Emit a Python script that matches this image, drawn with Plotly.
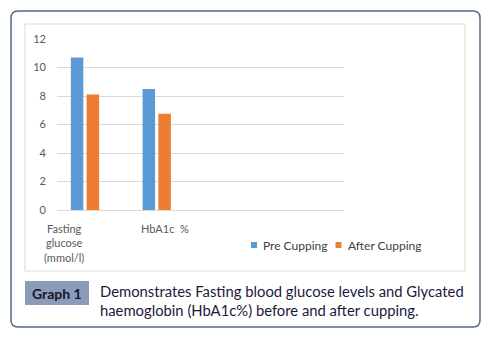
import plotly.graph_objects as go

# ---- data ----
categories = ["Fasting<br>glucose<br>(mmol/l)", "HbA1c\u00a0 %"]
series_names = ["Pre Cupping", "After Cupping"]
pre_cupping = [10.7, 8.5]
after_cupping = [8.1, 6.75]
y_ticks = [0, 2, 4, 6, 8, 10, 12]
caption_label = "Graph 1"
caption_text = "Demonstrates Fasting blood glucose levels and Glycated<br>haemoglobin (HbA1c%) before and after cupping."

W, H = 488, 340
ML, MR, MT, MB = 57, 144, 39, 130
PW, PH = W - ML - MR, H - MT - MB

def px(x):
    return (x - ML) / PW

def py(y):
    return 1 - (y - MT) / PH

colors = ["#5b9bd5", "#ed7d31"]
values = [pre_cupping, after_cupping]
bar_w = 0.174
offsets = [-0.307, -0.087]

fig = go.Figure()
xs = list(range(len(categories)))
for name, vals, col, off in zip(series_names, values, colors, offsets):
    fig.add_trace(go.Bar(x=xs, y=vals, name=name, marker=dict(color=col, line=dict(width=0)),
                         width=bar_w, offset=off, showlegend=False))

font_fam = "Lato, 'Open Sans', sans-serif"
shapes = []
annotations = []

# outer rounded border
x0, x1, y0, y1, r = 11, 480, 11, 327, 7
path = (f"M {px(x0+r)},{py(y0)} L {px(x1-r)},{py(y0)} Q {px(x1)},{py(y0)} {px(x1)},{py(y0+r)} "
        f"L {px(x1)},{py(y1-r)} Q {px(x1)},{py(y1)} {px(x1-r)},{py(y1)} "
        f"L {px(x0+r)},{py(y1)} Q {px(x0)},{py(y1)} {px(x0)},{py(y1-r)} "
        f"L {px(x0)},{py(y0+r)} Q {px(x0)},{py(y0)} {px(x0+r)},{py(y0)} Z")
shapes.append(dict(type="path", xref="paper", yref="paper", path=path,
                   line=dict(color="#55698a", width=1.5), layer="below"))
# inner chart frame
shapes.append(dict(type="rect", xref="paper", yref="paper", x0=px(25), x1=px(465), y0=py(24), y1=py(271),
                   line=dict(color="#d9d9d9", width=1), layer="below"))
# caption label box
shapes.append(dict(type="rect", xref="paper", yref="paper", x0=px(25), x1=px(89), y0=py(281), y1=py(305),
                   fillcolor="#8b9bb8", line=dict(width=0), layer="below"))
annotations.append(dict(xref="paper", yref="paper", x=px(57), y=py(293.5), text=f"<b>{caption_label}</b>",
                        showarrow=False, xanchor="center", yanchor="middle",
                        font=dict(family=font_fam, size=14, color="#15152a")))
annotations.append(dict(xref="paper", yref="paper", x=px(98), y=py(300), text=caption_text,
                        showarrow=False, xanchor="left", yanchor="middle", align="left",
                        font=dict(family=font_fam, size=14.8, color="#1a1a40")))

# x category labels
label_shift = [-28.5, 0]
for i, (lab, sh) in enumerate(zip(categories, label_shift)):
    annotations.append(dict(xref="x", yref="paper", x=i, xshift=sh, y=py(220), text=lab,
                            showarrow=False, xanchor="center", yanchor="top", align="center",
                            font=dict(family=font_fam, size=11, color="#595959")))

# legend
leg_sq = [251, 335.5]
for name, col, sx in zip(series_names, colors, leg_sq):
    shapes.append(dict(type="rect", xref="paper", yref="paper", x0=px(sx), x1=px(sx + 6),
                       y0=py(242), y1=py(248), fillcolor=col, line=dict(width=0)))
    annotations.append(dict(xref="paper", yref="paper", x=px(sx + 10), y=py(245), text=name,
                            showarrow=False, xanchor="left", yanchor="middle",
                            font=dict(family=font_fam, size=12, color="#404040")))

fig.update_layout(
    width=W, height=H, margin=dict(l=ML, r=MR, t=MT, b=MB),
    paper_bgcolor="white", plot_bgcolor="white",
    barmode="overlay",
    shapes=shapes, annotations=annotations,
    showlegend=False,
    xaxis=dict(range=[-0.5, 3.5], showticklabels=False, showgrid=False, zeroline=False,
               showline=False, ticks="", fixedrange=True),
    yaxis=dict(range=[0, 12], tickvals=y_ticks, showgrid=True, gridcolor="#d9d9d9", gridwidth=1,
               zeroline=True, zerolinecolor="#d9d9d9", zerolinewidth=1, showline=False, ticks="",
               ticklabelstandoff=10,
               tickfont=dict(family=font_fam, size=11, color="#595959"), fixedrange=True),
)

fig.write_html("out.html", config={"displayModeBar": False})
